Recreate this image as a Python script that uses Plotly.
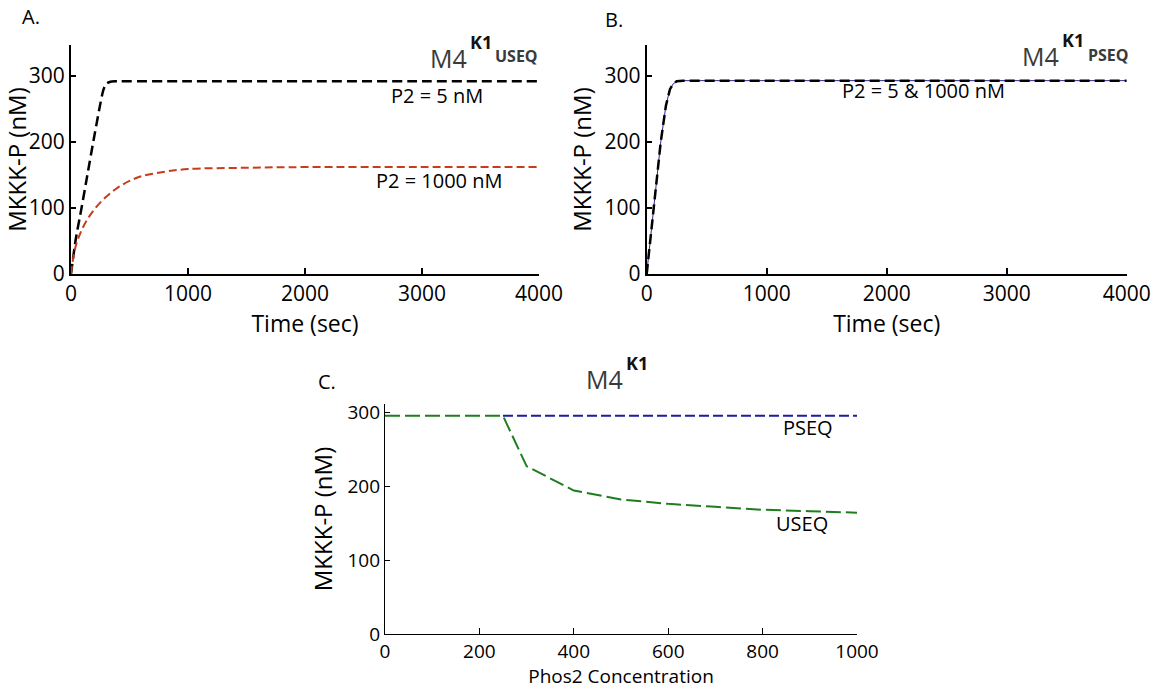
import plotly.graph_objects as go

# ---------------- data ----------------
# Panel A (USEQ)
time_a_p2_5 = [0, 40, 90, 140, 190, 240, 275, 300, 330, 380, 1000, 2000, 3000, 4000]
mkkkp_a_p2_5 = [0, 52, 100, 150, 200, 248, 278, 288, 291, 292, 292, 292, 292, 292]
time_a_p2_1000 = [0, 15, 40, 80, 130, 200, 300, 400, 500, 600, 800, 1000, 1500, 2000, 3000, 4000]
mkkkp_a_p2_1000 = [0, 20, 42, 62, 80, 98, 117, 131, 141, 148, 155, 159, 161, 162, 162, 162]

# Panel B (PSEQ)
time_b = [0, 30, 60, 117, 160, 194, 220, 250, 300, 400, 1000, 2000, 3000, 4000]
mkkkp_b_p2_5 = [0, 50, 100, 200, 255, 280, 288, 292, 293, 293, 293, 293, 293, 293]
mkkkp_b_p2_1000 = [0, 50, 100, 200, 255, 280, 288, 292, 293, 293, 293, 293, 293, 293]

# Panel C (steady state vs Phos2)
phos2_useq = [0, 50, 100, 150, 200, 250, 300, 400, 500, 600, 700, 800, 900, 1000]
mkkkp_useq = [295, 295, 295, 295, 295, 295, 227, 194, 182, 176, 172, 168, 166, 164]
phos2_pseq = [250, 300, 400, 500, 600, 700, 800, 900, 1000]
mkkkp_pseq = [295, 295, 295, 295, 295, 295, 295, 295, 295]

ticks_time = [0, 1000, 2000, 3000, 4000]
ticks_conc = [0, 100, 200, 300]
ticks_phos2 = [0, 200, 400, 600, 800, 1000]

W, H = 1156, 689
FONT = "Open Sans"


def px(x):
    return x / W


def py(y):
    return 1 - y / H


fig = go.Figure()

fig.add_trace(go.Scatter(x=time_a_p2_5, y=mkkkp_a_p2_5, mode="lines",
                         line=dict(color="black", width=2.5, dash="10px,5px", shape="spline", smoothing=0.6),
                         xaxis="x", yaxis="y", showlegend=False))
fig.add_trace(go.Scatter(x=time_a_p2_1000, y=mkkkp_a_p2_1000, mode="lines",
                         line=dict(color="#c83c1e", width=2, dash="8px,4px", shape="spline"),
                         xaxis="x", yaxis="y", showlegend=False))

fig.add_trace(go.Scatter(x=time_b, y=mkkkp_b_p2_1000, mode="lines",
                         line=dict(color="#2a2a9a", width=1),
                         xaxis="x2", yaxis="y2", showlegend=False))
fig.add_trace(go.Scatter(x=time_b, y=mkkkp_b_p2_5, mode="lines",
                         line=dict(color="black", width=2.5, dash="10px,5px"),
                         xaxis="x2", yaxis="y2", showlegend=False))

fig.add_trace(go.Scatter(x=phos2_pseq, y=mkkkp_pseq, mode="lines",
                         line=dict(color="#1c1ca0", width=2, dash="10px,4px"),
                         xaxis="x3", yaxis="y3", showlegend=False))
fig.add_trace(go.Scatter(x=phos2_useq, y=mkkkp_useq, mode="lines",
                         line=dict(color="#1e7d1e", width=2, dash="15px,5px"),
                         xaxis="x3", yaxis="y3", showlegend=False))

tickfont = dict(family=FONT, size=21, color="black")
tickfont_c = dict(family=FONT, size=19, color="black")
ytitlefont = dict(family=FONT, size=24, color="black")
xtitlefont = dict(family=FONT, size=23, color="black")
xtitlefont_c = dict(family=FONT, size=19, color="black")


def xax(domain, rng, ticks, anchor, lw, kfont, title, tfont, standoff):
    return dict(domain=domain, range=rng, tickvals=ticks, anchor=anchor, automargin=True,
                showline=True, linecolor="black", linewidth=lw,
                ticks="inside", ticklen=6, tickwidth=lw, tickcolor="black",
                showgrid=False, zeroline=False, tickfont=kfont,
                title=dict(text=title, font=tfont, standoff=standoff))


def yax(domain, rng, ticks, anchor, lw, kfont, title, standoff):
    return dict(domain=domain, range=rng, tickvals=ticks, anchor=anchor, automargin=True,
                showline=True, linecolor="black", linewidth=lw,
                ticks="inside", ticklen=5, tickwidth=lw, tickcolor="black",
                showgrid=False, zeroline=False, tickfont=kfont,
                title=dict(text=title, font=ytitlefont, standoff=standoff))


yA = [py(274), py(45)]
yC = [py(634), py(404)]

fig.update_layout(
    width=W, height=H, autosize=False,
    margin=dict(l=0, r=0, t=0, b=0, pad=0, autoexpand=False),
    paper_bgcolor="white", plot_bgcolor="white",
    font=dict(family=FONT, color="black"),
    showlegend=False,
    xaxis=xax([px(71), px(539)], [0, 4000], ticks_time, "y", 2, tickfont, "Time (sec)", xtitlefont, 2),
    yaxis=yax(yA, [0, 347], ticks_conc, "x", 2, tickfont, "MKKK-P (nM)", 6),
    xaxis2=xax([px(646.7), px(1126.7)], [0, 4000], ticks_time, "y2", 2, tickfont, "Time (sec)", xtitlefont, 2),
    yaxis2=yax(yA, [0, 347], ticks_conc, "x2", 2, tickfont, "MKKK-P (nM)", 6),
    xaxis3=xax([px(385), px(857)], [0, 1000], ticks_phos2, "y3", 1.3, tickfont_c,
               "Phos2 Concentration", xtitlefont_c, 2),
    yaxis3=yax(yC, [0, 311], ticks_conc, "x3", 1.3, tickfont_c, "MKKK-P (nM)", 8),
)

ann = []


def text(x, y, s, size, color="black", bold=False, xanchor="center", yanchor="middle"):
    ann.append(dict(x=px(x), y=py(y), xref="paper", yref="paper", text=("<b>%s</b>" % s) if bold else s,
                    showarrow=False, xanchor=xanchor, yanchor=yanchor, borderpad=0,
                    font=dict(family=FONT, size=size, color=color)))


def model_label(m4_right, m4_baseline, k1_baseline, state=None, state_left=None):
    # "M4" with superscript "K1" and an optional state tag to the right
    text(m4_right, m4_baseline + 0.293 * 25, "M4", 25, "#3a3a3a", xanchor="right", yanchor="bottom")
    text(m4_right + 1, k1_baseline + 0.293 * 18, "K1", 18, "#111111", bold=True,
         xanchor="left", yanchor="bottom")
    if state:
        text(state_left, m4_baseline - 5 + 0.293 * 16, state, 16, "#3a3a3a", bold=True,
             xanchor="left", yanchor="bottom")


# panel letters
text(31, 17, "A.", 20)
text(614, 20, "B.", 20)
text(327, 381, "C.", 20)

# panel A labels
model_label(468, 68.5, 49.5, "USEQ", 494)
text(437, 95, "P2 = 5 nM", 20)
text(439, 181, "P2 = 1000 nM", 20)

# panel B labels
model_label(1060, 67, 48, "PSEQ", 1087)
text(923, 91, "P2 = 5 &amp; 1000 nM", 20)

# panel C labels
model_label(624, 390, 371)
text(808, 427, "PSEQ", 20)
text(802, 523, "USEQ", 20)

fig.update_layout(annotations=ann)

fig.write_html("out.html",
               config={"displayModeBar": False},
               post_script="document.documentElement.style.margin='0';"
                           "document.body.style.margin='0';document.body.style.padding='0';"
                           "document.body.style.overflow='hidden';")
